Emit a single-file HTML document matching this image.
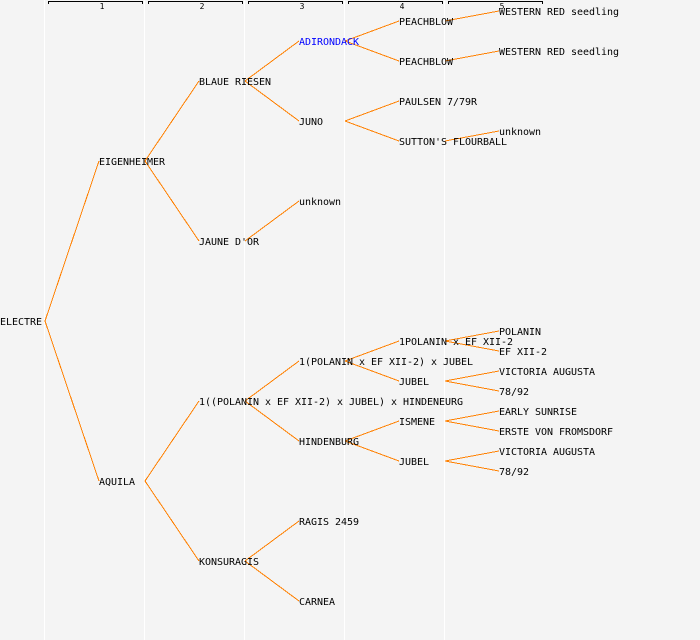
<!DOCTYPE html>
<html><head><meta charset="utf-8"><style>
html,body{margin:0;padding:0;background:#f4f4f4}
svg{display:block}
text{font-family:"DejaVu Sans Mono","Liberation Mono",monospace;font-size:10px;fill:#000;letter-spacing:-0.02px}
.h{font-size:8px;text-anchor:middle}
</style></head><body>
<svg width="700" height="640" viewBox="0 0 700 640" xmlns="http://www.w3.org/2000/svg">
<rect width="700" height="640" fill="#f4f4f4"/>
<g stroke="#fff" stroke-width="1" shape-rendering="crispEdges">
<path d="M44.5 0V640M144.5 0V640M244.5 0V640M344.5 0V640M444.5 0V640"/>
</g>
<g fill="none" stroke="#000" stroke-width="1" shape-rendering="crispEdges">
<path d="M48.5 4V1.5H142.5V4M148.5 4V1.5H242.5V4M248.5 4V1.5H342.5V4M348.5 4V1.5H442.5V4M448.5 4V1.5H542.5V4"/>
</g>
<text class="h" x="102" y="9">1</text><text class="h" x="202" y="9">2</text><text class="h" x="302" y="9">3</text><text class="h" x="402" y="9">4</text><text class="h" x="502" y="9">5</text>
<g fill="none" stroke="#ff8000" stroke-width="1" shape-rendering="crispEdges">
<path d="M45 321L99 161M45 321L99 481"/>
<path d="M145 161L199 81M145 161L199 241M145 481L199 401M145 481L199 561"/>
<path d="M245 81L299 41M245 81L299 121M245 241L299 201M245 401L299 361M245 401L299 441M245 561L299 521M245 561L299 601"/>
<path d="M345 41L399 21M345 41L399 61M345 121L399 101M345 121L399 141M345 361L399 341M345 361L399 381M345 441L399 421M345 441L399 461"/>
<path d="M445 21L499 11M445 61L499 51M445 141L499 131M445 341L499 331M445 341L499 351M445 381L499 371M445 381L499 391M445 421L499 411M445 421L499 431M445 461L499 451M445 461L499 471"/>
</g>
<text x="0" y="325">ELECTRE</text>
<text x="99" y="165">EIGENHEIMER</text>
<text x="99" y="485">AQUILA</text>
<text x="199" y="85">BLAUE RIESEN</text>
<text x="199" y="245">JAUNE D'OR</text>
<text x="199" y="405">1((POLANIN x EF XII-2) x JUBEL) x HINDENEURG</text>
<text x="199" y="565">KONSURAGIS</text>
<text x="299" y="45" style="fill:#0000ff">ADIRONDACK</text>
<text x="299" y="125">JUNO</text>
<text x="299" y="205">unknown</text>
<text x="299" y="365">1(POLANIN x EF XII-2) x JUBEL</text>
<text x="299" y="445">HINDENBURG</text>
<text x="299" y="525">RAGIS 2459</text>
<text x="299" y="605">CARNEA</text>
<text x="399" y="25">PEACHBLOW</text>
<text x="399" y="65">PEACHBLOW</text>
<text x="399" y="105">PAULSEN 7/79R</text>
<text x="399" y="145">SUTTON'S FLOURBALL</text>
<text x="399" y="345">1POLANIN x EF XII-2</text>
<text x="399" y="385">JUBEL</text>
<text x="399" y="425">ISMENE</text>
<text x="399" y="465">JUBEL</text>
<text x="499" y="15">WESTERN RED seedling</text>
<text x="499" y="55">WESTERN RED seedling</text>
<text x="499" y="135">unknown</text>
<text x="499" y="335">POLANIN</text>
<text x="499" y="355">EF XII-2</text>
<text x="499" y="375">VICTORIA AUGUSTA</text>
<text x="499" y="395">78/92</text>
<text x="499" y="415">EARLY SUNRISE</text>
<text x="499" y="435">ERSTE VON FROMSDORF</text>
<text x="499" y="455">VICTORIA AUGUSTA</text>
<text x="499" y="475">78/92</text>
</svg>
</body></html>
